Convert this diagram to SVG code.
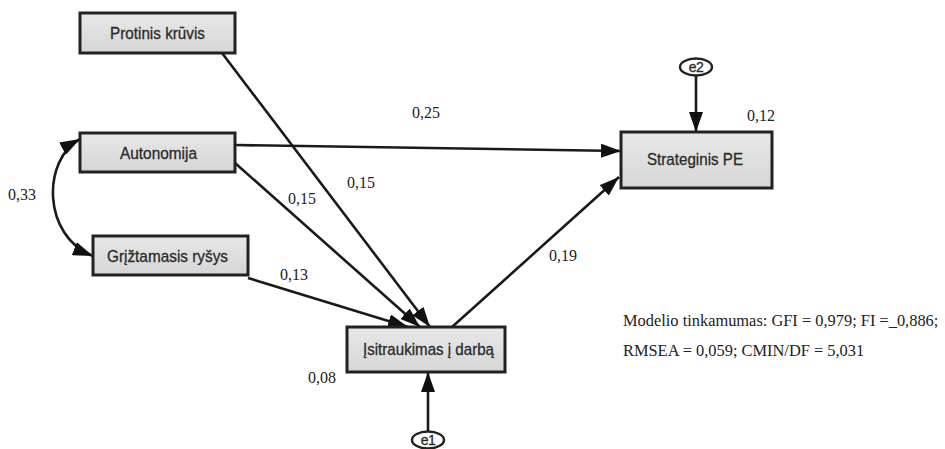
<svg xmlns="http://www.w3.org/2000/svg" width="945" height="449" viewBox="0 0 945 449">
<style>
.box{fill:url(#g);stroke:#222;stroke-width:3}
.bt{font-family:"Liberation Sans",Arial,sans-serif;font-size:17px;fill:#2a2a2a;stroke:#2a2a2a;stroke-width:0.3;text-anchor:middle}
.lbl{font-family:"Liberation Serif","Times New Roman",serif;font-size:16px;fill:#222}
.fit{font-family:"Liberation Serif","Times New Roman",serif;font-size:16.4px;fill:#222}
.edge{fill:none;stroke:#1a1a1a;stroke-width:2.6}
.err{fill:#fff;stroke:#222;stroke-width:2.4}
.et{font-family:"Liberation Sans",Arial,sans-serif;font-size:14px;fill:#2a2a2a;stroke:#2a2a2a;stroke-width:0.3;text-anchor:middle;letter-spacing:-0.5px}
</style>
<defs>
<linearGradient id="g" x1="0" y1="0" x2="0" y2="1"><stop offset="0" stop-color="#e8e8e8"/><stop offset="1" stop-color="#d6d6d6"/></linearGradient>
<marker id="ah" markerUnits="userSpaceOnUse" markerWidth="20" markerHeight="14" refX="20" refY="7" orient="auto-start-reverse" viewBox="0 0 20 14"><path d="M0,0 L20,7 L0,14 z" fill="#111"/></marker>
</defs>
<rect width="945" height="449" fill="#fff"/>
<g id="connectors">
<path class="edge" d="M235,145 L621,151" marker-end="url(#ah)"/>
<path class="edge" d="M222,53 L430,327" marker-end="url(#ah)"/>
<path class="edge" d="M235,163 L420,327" marker-end="url(#ah)"/>
<path class="edge" d="M248,278 L408,327" marker-end="url(#ah)"/>
<path class="edge" d="M452,327 L619,177" marker-end="url(#ah)"/>
<path class="edge" d="M696,76 L696,132" marker-end="url(#ah)"/>
<path class="edge" d="M428,431 L428,372" marker-end="url(#ah)"/>
<path class="edge" d="M80,139 C42,160 42,236 93,256" marker-start="url(#ah)" marker-end="url(#ah)"/>
</g>
<g id="protinis"><rect class="box" x="80" y="13" width="155" height="40"/><text class="bt" x="157.5" y="38.5" textLength="95" lengthAdjust="spacingAndGlyphs">Protinis krūvis</text></g>
<g id="autonomija"><rect class="box" x="80" y="133" width="155" height="39"/><text class="bt" x="158.5" y="158.5" textLength="77" lengthAdjust="spacingAndGlyphs">Autonomija</text></g>
<g id="griztamasis"><rect class="box" x="93" y="236" width="155" height="39"/><text class="bt" x="167.5" y="262" textLength="121" lengthAdjust="spacingAndGlyphs">Grįžtamasis ryšys</text></g>
<g id="isitraukimas"><rect class="box" x="347" y="327" width="158" height="45"/><text class="bt" x="428.5" y="355" textLength="131" lengthAdjust="spacingAndGlyphs">Įsitraukimas į darbą</text></g>
<g id="strateginis"><rect class="box" x="621" y="132" width="151" height="56"/><text class="bt" x="695" y="165" textLength="96" lengthAdjust="spacingAndGlyphs">Strateginis PE</text></g>
<g id="e1"><ellipse class="err" cx="428" cy="440" rx="16" ry="8.5"/><text class="et" x="428" y="445">e1</text></g>
<g id="e2"><ellipse class="err" cx="696" cy="67" rx="16" ry="8.5"/><text class="et" x="696" y="72">e2</text></g>
<g id="labels">
<text class="lbl" x="412" y="118">0,25</text>
<text class="lbl" x="347" y="188">0,15</text>
<text class="lbl" x="288" y="204">0,15</text>
<text class="lbl" x="280" y="280">0,13</text>
<text class="lbl" x="549" y="261">0,19</text>
<text class="lbl" x="8" y="200">0,33</text>
<text class="lbl" x="308" y="383">0,08</text>
<text class="lbl" x="747" y="121">0,12</text>
<text class="fit" x="623" y="326">Modelio tinkamumas: GFI = 0,979; FI =_0,886;</text>
<text class="fit" x="623" y="356">RMSEA = 0,059; CMIN/DF = 5,031</text>
</g>
</svg>
